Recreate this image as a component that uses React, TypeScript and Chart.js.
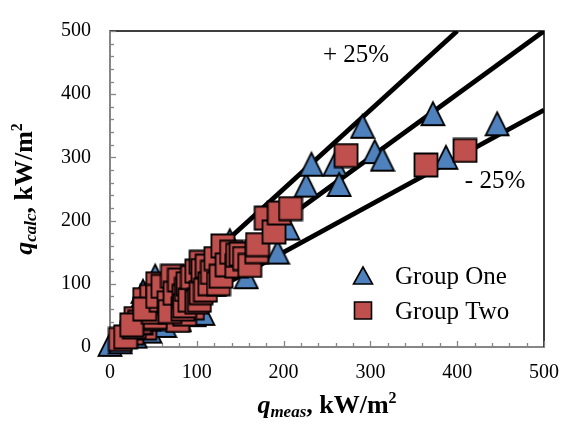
import React, { useEffect, useRef } from 'react';
import { Chart, registerables } from 'chart.js';

Chart.register(...registerables);

// ---- Data ----
const groupOneX = [0, 12, 20, 29, 30, 38, 46, 52, 60, 63, 80, 80, 97, 100, 107, 120, 138, 157, 193, 205, 226, 232, 259, 264, 291, 305, 314, 372, 387, 446];
const groupOneY = [5, 9, 40, 18, 60, 89, 26, 113, 50, 35, 44, 70, 52, 90, 54, 100, 169, 112, 151, 189, 257, 290, 290, 258, 350, 310, 298, 370, 301, 354];

const groupTwoX = [12, 25, 30, 40, 40, 48, 55, 65, 70, 78, 86, 95, 18, 28, 36, 34, 45, 52, 25, 50, 40, 59, 55, 61, 68, 69, 72, 75, 80, 84, 85, 86, 88, 90, 92, 95, 100, 100, 103, 105, 105, 107, 110, 112, 115, 118, 122, 125, 128, 130, 135, 140, 146, 147, 151, 155, 161, 169, 170, 180, 189, 195, 208, 272, 364, 409];
const groupTwoY = [12, 22, 45, 30, 75, 80, 100, 45, 58, 42, 52, 62, 16, 32, 38, 39, 45, 47, 35, 55, 60, 74, 80, 96, 70, 56, 112, 85, 106, 60, 80, 65, 91, 100, 74, 110, 71, 120, 74, 86, 134, 121, 90, 128, 100, 118, 140, 100, 112, 160, 130, 150, 128, 145, 147, 140, 129, 151, 162, 204, 182, 212, 219, 303, 288, 311];

const parityX = [0, 500];
const parityY = [0, 500];
const plusX = [0, 400];
const plusY = [0, 500];
const minusX = [0, 500];
const minusY = [0, 375];

const axisMin = 0;
const axisMax = 500;
const majorStep = 100;
const minorStep = 20;

const seriesNames = ['Group One', 'Group Two'];
const bandLabels = ['+ 25%', '- 25%'];

const BLUE = '#4F81BD';
const RED = '#C0504D';
const SERIF = '"Liberation Serif", "Times New Roman", serif';

function makeTriangle(): HTMLCanvasElement {
  const c = document.createElement('canvas');
  c.width = 26;
  c.height = 28;
  const ctx = c.getContext('2d')!;
  ctx.beginPath();
  ctx.moveTo(13, 3);
  ctx.lineTo(24.5, 26);
  ctx.lineTo(1.5, 26);
  ctx.closePath();
  ctx.fillStyle = BLUE;
  ctx.fill();
  ctx.lineWidth = 1.8;
  ctx.strokeStyle = '#000';
  ctx.stroke();
  return c;
}

function makeSquare(): HTMLCanvasElement {
  const c = document.createElement('canvas');
  c.width = 26;
  c.height = 26;
  const ctx = c.getContext('2d')!;
  ctx.beginPath();
  ctx.rect(1.5, 1.5, 23, 23);
  ctx.fillStyle = RED;
  ctx.fill();
  ctx.lineWidth = 1.8;
  ctx.strokeStyle = '#000';
  ctx.stroke();
  return c;
}

function toPoints(xs: number[], ys: number[]) {
  return xs.map((x, i) => ({ x, y: ys[i] }));
}

type Part = { text: string; font: string; dy: number };

function drawParts(ctx: CanvasRenderingContext2D, parts: Part[], cx: number, baseY: number) {
  let total = 0;
  for (const p of parts) {
    ctx.font = p.font;
    total += ctx.measureText(p.text).width;
  }
  let x = cx - total / 2;
  ctx.textAlign = 'left';
  ctx.textBaseline = 'alphabetic';
  for (const p of parts) {
    ctx.font = p.font;
    ctx.fillText(p.text, x, baseY + p.dy);
    x += ctx.measureText(p.text).width;
  }
}

function titleParts(sub: string): Part[] {
  return [
    { text: 'q', font: `italic bold 26px ${SERIF}`, dy: 0 },
    { text: sub, font: `italic bold 17px ${SERIF}`, dy: 4 },
    { text: ', kW/m', font: `bold 26px ${SERIF}`, dy: 0 },
    { text: '2', font: `bold 16px ${SERIF}`, dy: -10 },
  ];
}

const decorPlugin = {
  id: 'decor',
  beforeDatasetsDraw(chart: any) {
    const { ctx, chartArea, scales } = chart;
    const xs = scales.x;
    const ys = scales.y;
    ctx.save();
    ctx.strokeStyle = '#000';
    ctx.lineWidth = 1.5;
    ctx.beginPath();
    ctx.moveTo(chartArea.left, chartArea.top);
    ctx.lineTo(chartArea.right, chartArea.top);
    ctx.lineTo(chartArea.right, chartArea.bottom);
    ctx.stroke();
    ctx.strokeStyle = '#868686';
    ctx.lineWidth = 1.3;
    for (let v = axisMin + minorStep; v <= axisMax; v += minorStep) {
      const len = v % majorStep === 0 ? 6 : 4;
      const px = Math.round(xs.getPixelForValue(v)) + 0.5;
      ctx.beginPath();
      ctx.moveTo(px, chartArea.bottom);
      ctx.lineTo(px, chartArea.bottom - len);
      ctx.stroke();
      const py = Math.round(ys.getPixelForValue(v)) + 0.5;
      ctx.beginPath();
      ctx.moveTo(chartArea.left, py);
      ctx.lineTo(chartArea.left + len, py);
      ctx.stroke();
    }
    ctx.restore();
  },
  afterDraw(chart: any) {
    const { ctx, chartArea } = chart;
    ctx.save();
    ctx.fillStyle = '#000';
    ctx.font = `25px ${SERIF}`;
    ctx.textAlign = 'center';
    ctx.textBaseline = 'middle';
    ctx.fillText(bandLabels[0], 356, 55);
    ctx.fillText(bandLabels[1], 495, 181);

    ctx.lineWidth = 1.6;
    ctx.strokeStyle = '#000';
    ctx.beginPath();
    ctx.moveTo(363, 267);
    ctx.lineTo(372.5, 284);
    ctx.lineTo(353.5, 284);
    ctx.closePath();
    ctx.fillStyle = BLUE;
    ctx.fill();
    ctx.stroke();
    ctx.beginPath();
    ctx.rect(354.5, 302, 17, 17);
    ctx.fillStyle = RED;
    ctx.fill();
    ctx.stroke();
    ctx.fillStyle = '#000';
    ctx.font = `25px ${SERIF}`;
    ctx.textAlign = 'left';
    ctx.textBaseline = 'middle';
    ctx.fillText(seriesNames[0], 395, 277);
    ctx.fillText(seriesNames[1], 395, 312);

    const cx = (chartArea.left + chartArea.right) / 2;
    drawParts(ctx, titleParts('meas'), cx, 413);
    ctx.save();
    const cy = (chartArea.top + chartArea.bottom) / 2;
    ctx.translate(32, cy);
    ctx.rotate(-Math.PI / 2);
    drawParts(ctx, titleParts('calc'), 0, 0);
    ctx.restore();
    ctx.restore();
  },
};

export default function App() {
  const ref = useRef<HTMLCanvasElement | null>(null);

  useEffect(() => {
    if (!ref.current) return;
    const tri = makeTriangle();
    const sq = makeSquare();
    const lineStyle = {
      type: 'line' as const,
      borderColor: '#000',
      borderWidth: 4.8,
      pointRadius: 0,
      showLine: true,
      fill: false,
      order: 3,
    };
    const chart = new Chart(ref.current, {
      type: 'scatter',
      data: {
        datasets: [
          {
            label: seriesNames[1],
            data: toPoints(groupTwoX, groupTwoY),
            pointStyle: sq as any,
            pointRadius: 12,
            backgroundColor: RED,
            borderColor: '#000',
            clip: false as any,
            order: 1,
          },
          {
            label: seriesNames[0],
            data: toPoints(groupOneX, groupOneY),
            pointStyle: tri as any,
            pointRadius: 12,
            backgroundColor: BLUE,
            borderColor: '#000',
            clip: false as any,
            order: 2,
          },
          { ...lineStyle, label: 'parity', data: toPoints(parityX, parityY) } as any,
          { ...lineStyle, label: bandLabels[0], data: toPoints(plusX, plusY) } as any,
          { ...lineStyle, label: bandLabels[1], data: toPoints(minusX, minusY) } as any,
        ],
      },
      options: {
        animation: false,
        responsive: false,
        devicePixelRatio: 1,
        layout: { padding: { left: 0, top: 16, right: 28, bottom: 0 } },
        plugins: {
          legend: { display: false },
          tooltip: { enabled: false },
          title: { display: false },
        },
        scales: {
          x: {
            type: 'linear',
            min: axisMin,
            max: axisMax,
            ticks: {
              stepSize: majorStep,
              color: '#000',
              font: { family: SERIF, size: 20 },
              padding: 14,
              maxRotation: 0,
            },
            grid: { display: false, drawTicks: false },
            border: { display: true, color: '#868686', width: 2 },
            afterFit: (s: any) => {
              s.height = 78;
            },
          },
          y: {
            type: 'linear',
            min: axisMin,
            max: axisMax,
            ticks: {
              stepSize: majorStep,
              color: '#000',
              font: { family: SERIF, size: 20 },
              padding: 19,
            },
            grid: { display: false, drawTicks: false },
            border: { display: true, color: '#868686', width: 2 },
            afterFit: (s: any) => {
              s.width = 110;
            },
          },
        },
      },
      plugins: [decorPlugin],
    });
    return () => chart.destroy();
  }, []);

  return (
    <div style={{ position: 'fixed', left: 0, top: 0, width: 573, height: 425, background: '#fff' }}>
      <canvas ref={ref} width={573} height={425} style={{ display: 'block', width: 573, height: 425 }} />
    </div>
  );
}
